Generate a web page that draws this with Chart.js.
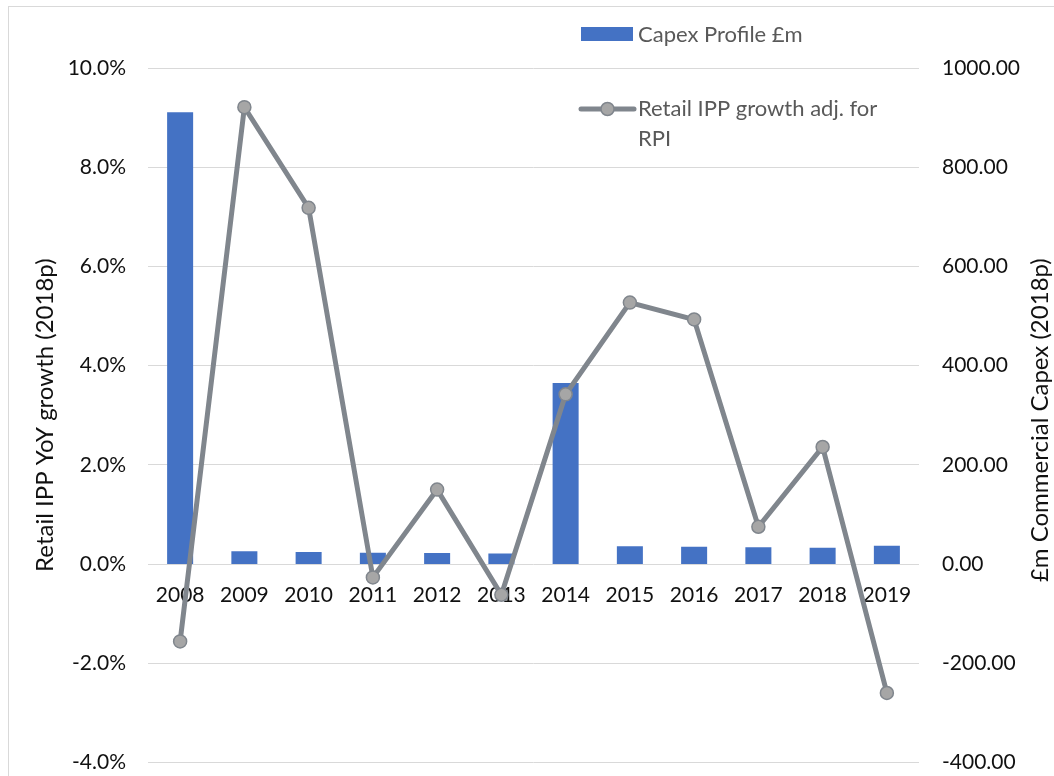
<!DOCTYPE html>
<html>
<head>
<meta charset="utf-8">
<title>Capex Profile vs Retail IPP growth</title>
<script src="https://cdn.jsdelivr.net/npm/chart.js@4"></script>
<style>
  html, body { margin: 0; padding: 0; background: #ffffff; }
  #wrap { position: relative; width: 1054px; height: 776px; }
  canvas { display: block; }
</style>
</head>
<body>
<div id="wrap"><canvas id="chart" width="1054" height="776"></canvas></div>
<script>
// Years on the category axis
const years = ['2008', '2009', '2010', '2011', '2012', '2013', '2014', '2015', '2016', '2017', '2018', '2019'];

// Commercial capex, £m (right axis)
const capexProfile = [911, 25.6, 24, 22.7, 22, 21, 365, 36, 35, 34, 33, 37];

// Retail IPP year-on-year growth adjusted for RPI, % (left axis)
const retailIppGrowth = [-1.56, 9.21, 7.18, -0.27, 1.50, -0.62, 3.42, 5.27, 4.93, 0.75, 2.36, -2.60];

// Axis tick values
const leftTicks = [-4, -2, 0, 2, 4, 6, 8, 10];
const rightTicks = [-400, -200, 0, 200, 400, 600, 800, 1000];

const seriesNames = ['Capex Profile £m', 'Retail IPP growth adj. for RPI'];
const leftTitle = 'Retail IPP YoY growth (2018p)';
const rightTitle = '£m Commercial Capex (2018p)';

const FONT = 'Lato, "Open Sans", sans-serif';
const BLUE = '#4472c4';
const LINE = '#80868d';
const MARKER = '#a6a6a6';
const GRID = '#d9d9d9';

// Fixed axis widths; no extra edge padding from the tick labels
function fixWidth(w) {
  return function (scale) {
    scale.width = w;
    scale.paddingTop = 0;
    scale.paddingBottom = 0;
  };
}

// Outer frame, right-axis title and the two-entry legend
const decor = {
  id: 'decor',
  beforeDraw(chart) {
    const ctx = chart.ctx;
    ctx.save();
    ctx.strokeStyle = GRID;
    ctx.lineWidth = 1;
    ctx.strokeRect(8.5, 6.5, 2000, 2000);
    ctx.restore();
  },
  afterDraw(chart) {
    const ctx = chart.ctx;
    const area = chart.chartArea;
    ctx.save();
    // right axis title, reading bottom to top
    ctx.fillStyle = '#111111';
    ctx.font = '24px ' + FONT;
    ctx.textAlign = 'center';
    ctx.textBaseline = 'middle';
    ctx.translate(1040, (area.top + area.bottom) / 2 + 5);
    ctx.rotate(-Math.PI / 2);
    ctx.fillText(rightTitle, 0, 0);
    ctx.restore();

    ctx.save();
    ctx.font = '22px ' + FONT;
    ctx.textAlign = 'left';
    ctx.textBaseline = 'middle';
    // bar entry
    ctx.fillStyle = BLUE;
    ctx.fillRect(581, 27, 52, 14);
    ctx.fillStyle = '#595959';
    ctx.fillText(seriesNames[0], 638, 35);
    // line entry
    ctx.strokeStyle = LINE;
    ctx.lineWidth = 5;
    ctx.lineCap = 'round';
    ctx.beginPath();
    ctx.moveTo(581, 109);
    ctx.lineTo(634, 109);
    ctx.stroke();
    ctx.beginPath();
    ctx.arc(607.5, 109, 6.5, 0, Math.PI * 2);
    ctx.fillStyle = MARKER;
    ctx.fill();
    ctx.lineWidth = 1.5;
    ctx.stroke();
    ctx.fillStyle = '#595959';
    ctx.fillText('Retail IPP growth adj. for', 638, 109);
    ctx.fillText('RPI', 638, 139);
    ctx.restore();
  }
};

new Chart(document.getElementById('chart'), {
  type: 'bar',
  data: {
    labels: years,
    datasets: [
      {
        type: 'line',
        label: seriesNames[1],
        data: retailIppGrowth,
        yAxisID: 'yL',
        order: 0,
        borderColor: LINE,
        borderWidth: 5,
        tension: 0,
        pointRadius: 6.5,
        pointBackgroundColor: MARKER,
        pointBorderColor: LINE,
        pointBorderWidth: 1.5
      },
      {
        type: 'bar',
        label: seriesNames[0],
        data: capexProfile,
        yAxisID: 'yR',
        order: 1,
        backgroundColor: BLUE,
        borderWidth: 0,
        categoryPercentage: 1,
        barPercentage: 0.405
      }
    ]
  },
  options: {
    responsive: false,
    animation: false,
    devicePixelRatio: 1,
    layout: { padding: { top: 68, bottom: 13.6, left: 0, right: 0 } },
    plugins: {
      legend: { display: false },
      tooltip: { enabled: false }
    },
    scales: {
      x: {
        position: { yL: 0 },
        afterFit(scale) {
          scale.height = 0;
          scale.paddingTop = 0;
          scale.paddingBottom = 0;
          scale.paddingLeft = 0;
          scale.paddingRight = 0;
        },
        grid: { display: false },
        border: { display: false },
        ticks: { color: '#111111', font: { family: FONT, size: 21 }, padding: 11, maxRotation: 0 }
      },
      yL: {
        position: 'left',
        min: -4,
        max: 10,
        afterBuildTicks(scale) { scale.ticks = leftTicks.map(v => ({ value: v })); },
        afterFit: fixWidth(148),
        grid: { color: GRID, lineWidth: 1, drawTicks: false },
        border: { display: false },
        ticks: {
          color: '#111111',
          font: { family: FONT, size: 21 },
          padding: 22,
          callback: v => v.toFixed(1) + '%'
        },
        title: {
          display: true,
          text: leftTitle,
          color: '#111111',
          font: { family: FONT, size: 24 },
          padding: { top: 30.6, bottom: 0 }
        }
      },
      yR: {
        position: 'right',
        min: -400,
        max: 1000,
        afterBuildTicks(scale) { scale.ticks = rightTicks.map(v => ({ value: v })); },
        afterFit: fixWidth(135),
        grid: { display: false, drawTicks: false },
        border: { display: false },
        ticks: {
          color: '#111111',
          font: { family: FONT, size: 21 },
          padding: 23,
          callback: v => v.toFixed(2)
        }
      }
    }
  },
  plugins: [decor]
});
</script>
</body>
</html>
